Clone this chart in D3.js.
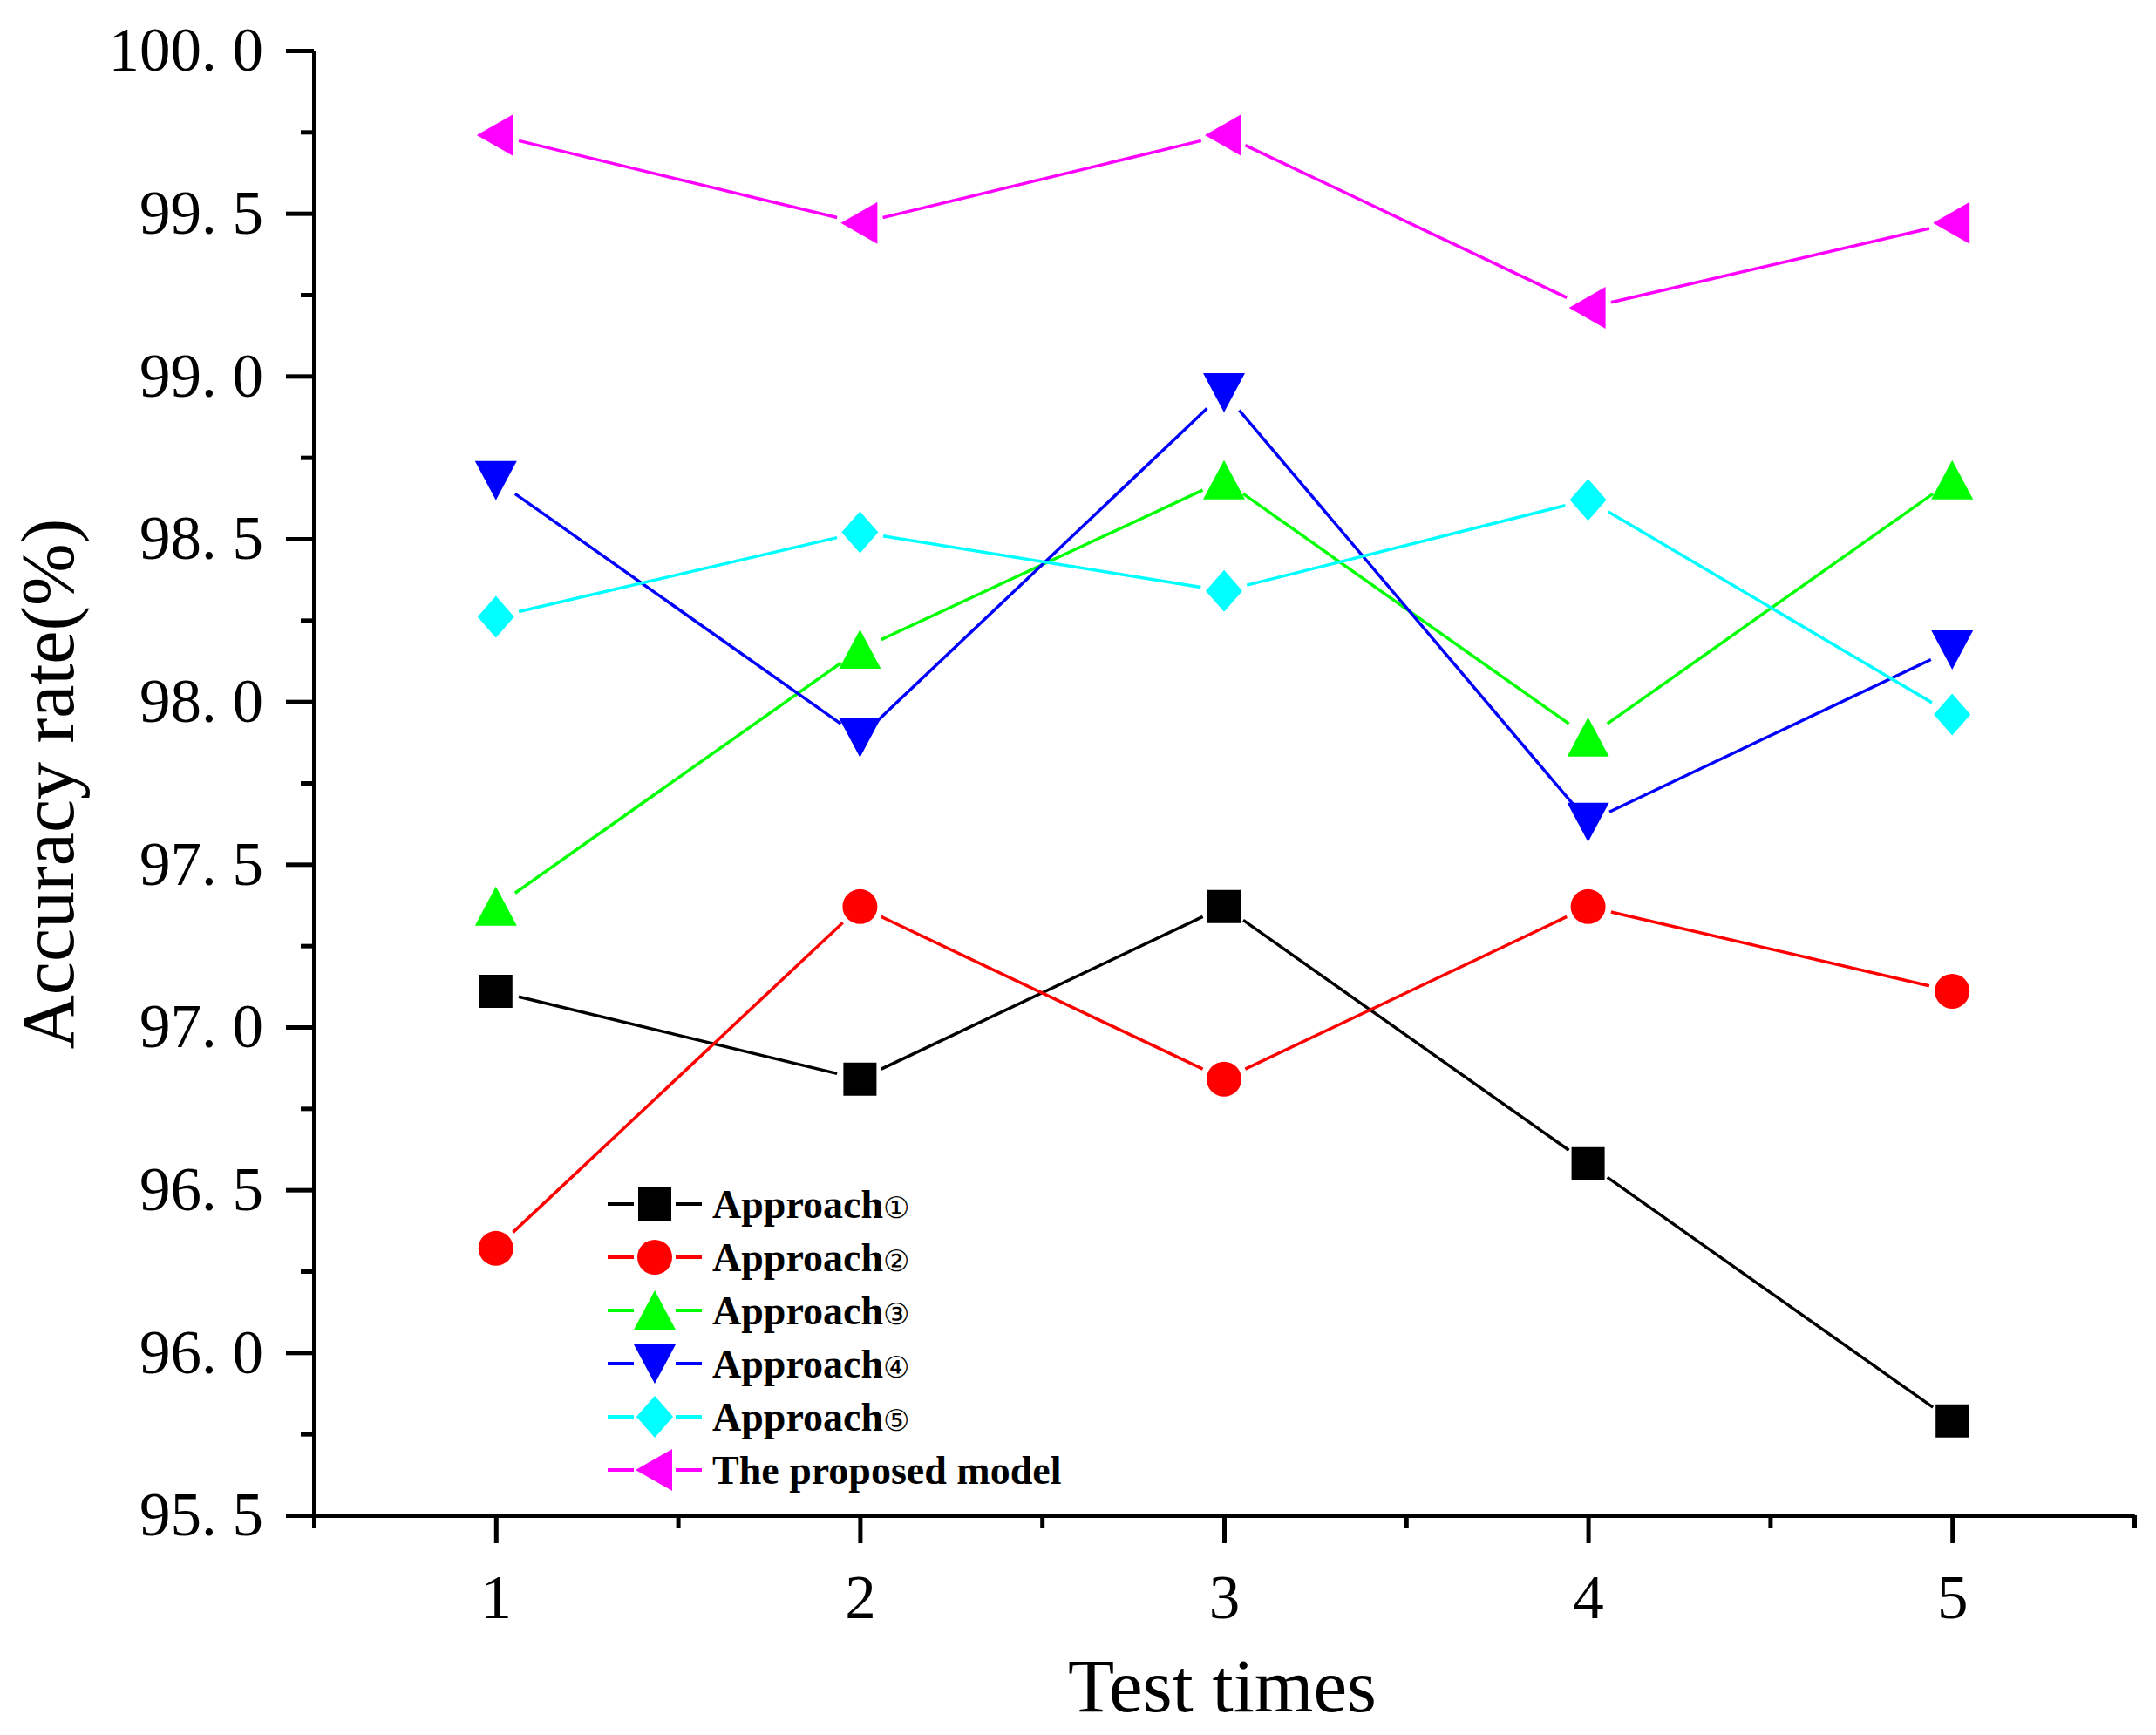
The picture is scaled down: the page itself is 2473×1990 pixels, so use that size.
<!DOCTYPE html>
<html>
<head>
<meta charset="utf-8">
<script src="https://cdn.jsdelivr.net/npm/d3@7"></script>
<style>
  html, body { margin: 0; padding: 0; background: #fff; }
  svg { display: block; }
</style>
</head>
<body>
<svg id="chart" width="2473" height="1990"></svg>
<script>
// test runs on the x axis
const testTimes = [1, 2, 3, 4, 5];

// accuracy rate (%) per approach
const approach1 = [97.11, 96.84, 97.37, 96.58, 95.79];
const approach2 = [96.32, 97.37, 96.84, 97.37, 97.11];
const approach3 = [97.37, 98.16, 98.68, 97.89, 98.68];
const approach4 = [98.68, 97.89, 98.95, 97.63, 98.16];
const approach5 = [98.26, 98.52, 98.34, 98.62, 97.96];
const proposed  = [99.74, 99.47, 99.74, 99.21, 99.47];

const seriesNames = ["Approach\u2460", "Approach\u2461", "Approach\u2462", "Approach\u2463", "Approach\u2464", "The proposed model"];

const yMajorTicks = [95.5, 96.0, 96.5, 97.0, 97.5, 98.0, 98.5, 99.0, 99.5, 100.0];
const yMinorTicks = [95.75, 96.25, 96.75, 97.25, 97.75, 98.25, 98.75, 99.25, 99.75];
const xMinorTicks = [0.5, 1.5, 2.5, 3.5, 4.5, 5.5];

const series = [
  { name: seriesNames[0], values: approach1, color: "#000000", shape: "square" },
  { name: seriesNames[1], values: approach2, color: "#ff0000", shape: "circle" },
  { name: seriesNames[2], values: approach3, color: "#00ff00", shape: "up" },
  { name: seriesNames[3], values: approach4, color: "#0000ff", shape: "down" },
  { name: seriesNames[4], values: approach5, color: "#00ffff", shape: "diamond" },
  { name: seriesNames[5], values: proposed,  color: "#ff00ff", shape: "left" }
];

const svg = d3.select("#chart");
svg.append("rect").attr("width", 2473).attr("height", 1990).attr("fill", "#fff");

const plotLeft = 360, plotRight = 2448, plotTop = 58, plotBottom = 1738;

const x = d3.scaleLinear().domain([0.5, 5.5]).range([plotLeft, plotRight]);
const y = d3.scaleLinear().domain([95.5, 100]).range([plotBottom, plotTop]);

// marker paths centred on 0,0
function markerPath(shape) {
  switch (shape) {
    case "square":  return "M-19,-19H19V19H-19Z";
    case "circle":  return d3.arc()({ innerRadius: 0, outerRadius: 20, startAngle: 0, endAngle: 2 * Math.PI });
    case "up":      return "M0,-23L24,22H-24Z";
    case "down":    return "M0,23L24,-22H-24Z";
    case "diamond": return "M0,-24L21,0L0,24L-21,0Z";
    case "left":    return "M-22,0L20,-24V24Z";
  }
}

const fontSerif = "'Liberation Serif', 'Times New Roman', serif";

// axes
const yAxisMajor = d3.axisLeft(y).tickValues(yMajorTicks).tickSize(32).tickSizeOuter(0).tickPadding(26)
  .tickFormat(d => d3.format(".1f")(d).replace(".", ". "));
const yAxisMinor = d3.axisLeft(y).tickValues(yMinorTicks).tickSize(15).tickSizeOuter(0).tickFormat("");
const xAxisMajor = d3.axisBottom(x).tickValues(testTimes).tickSize(32).tickSizeOuter(0).tickPadding(36)
  .tickFormat(d3.format("d"));
const xAxisMinor = d3.axisBottom(x).tickValues(xMinorTicks).tickSize(15).tickSizeOuter(0).tickFormat("");

function styleAxis(g) {
  g.selectAll("path.domain").attr("stroke", "#000").attr("stroke-width", 5);
  g.selectAll(".tick line").attr("stroke", "#000").attr("stroke-width", 5);
  g.selectAll(".tick text").attr("fill", "#000").style("font-family", fontSerif).style("font-size", "71px");
}

svg.append("g").attr("transform", `translate(${plotLeft},0)`).call(yAxisMinor).call(styleAxis);
svg.append("g").attr("transform", `translate(${plotLeft},0)`).call(yAxisMajor).call(styleAxis);
svg.append("g").attr("transform", `translate(0,${plotBottom})`).call(xAxisMinor).call(styleAxis);
svg.append("g").attr("transform", `translate(0,${plotBottom})`).call(xAxisMajor).call(styleAxis);

// axis titles
svg.append("text")
  .attr("transform", `translate(84,899) rotate(-90)`)
  .attr("text-anchor", "middle")
  .style("font-family", fontSerif).style("font-size", "86px")
  .text("Accuracy rate(%)");

svg.append("text")
  .attr("x", 1402).attr("y", 1963)
  .attr("text-anchor", "middle")
  .style("font-family", fontSerif).style("font-size", "87px")
  .text("Test times");

// lines with gaps around markers
const gap = 27;
const plot = svg.append("g");
series.forEach(s => {
  const pts = s.values.map((v, i) => [x(testTimes[i]), y(v)]);
  const segs = d3.pairs(pts).map(([a, b]) => {
    const dx = b[0] - a[0], dy = b[1] - a[1], len = Math.hypot(dx, dy);
    const ux = dx / len, uy = dy / len;
    return [a[0] + ux * gap, a[1] + uy * gap, b[0] - ux * gap, b[1] - uy * gap];
  });
  plot.append("g").selectAll("line").data(segs).join("line")
    .attr("x1", d => d[0]).attr("y1", d => d[1])
    .attr("x2", d => d[2]).attr("y2", d => d[3])
    .attr("stroke", s.color).attr("stroke-width", 3.5);
  plot.append("g").selectAll("path").data(s.values).join("path")
    .attr("transform", (d, i) => `translate(${x(testTimes[i])},${y(d)})`)
    .attr("d", markerPath(s.shape))
    .attr("fill", s.color);
});

// legend
const legend = svg.append("g").attr("transform", "translate(697,1381)");
const row = legend.selectAll("g").data(series).join("g")
  .attr("transform", (d, i) => `translate(0,${i * 61})`);
row.append("line").attr("x1", 0).attr("x2", 30).attr("y1", 0).attr("y2", 0)
  .attr("stroke", d => d.color).attr("stroke-width", 4);
row.append("line").attr("x1", 78).attr("x2", 108).attr("y1", 0).attr("y2", 0)
  .attr("stroke", d => d.color).attr("stroke-width", 4);
row.append("path")
  .attr("transform", "translate(54,0)")
  .attr("d", d => markerPath(d.shape))
  .attr("fill", d => d.color);
const label = row.append("text")
  .attr("x", 120).attr("y", 16)
  .style("font-family", fontSerif).style("font-size", "46px").style("font-weight", "bold");
// circled digit drawn a bit smaller, as in the original
label.append("tspan").text(d => /[\u2460-\u2473]$/.test(d.name) ? d.name.slice(0, -1) : d.name);
label.append("tspan").style("font-size", "34px").style("font-weight", "normal")
  .text(d => /[\u2460-\u2473]$/.test(d.name) ? d.name.slice(-1) : "");
</script>
</body>
</html>
